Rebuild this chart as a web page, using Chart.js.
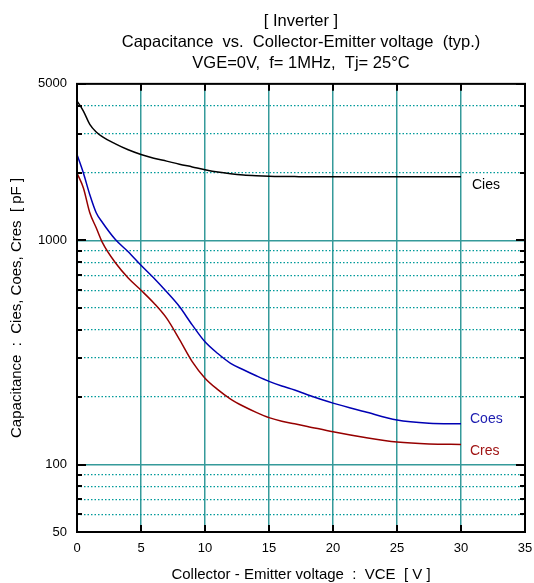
<!DOCTYPE html>
<html>
<head>
<meta charset="utf-8">
<script src="https://cdn.jsdelivr.net/npm/chart.js@4.4.0/dist/chart.umd.min.js"></script>
<style>
  html, body { margin: 0; padding: 0; background: #fff; }
  #wrap { width: 534px; height: 583px; position: relative; }
</style>
</head>
<body>
<div id="wrap"><canvas id="capChart"></canvas></div>
<script>
const titleLines = [
  "[ Inverter ]",
  "Capacitance  vs.  Collector-Emitter voltage  (typ.)",
  "VGE=0V,  f= 1MHz,  Tj= 25°C",
];
const xTitle = "Collector - Emitter voltage  :  VCE  [ V ]";
const yTitle = "Capacitance  :  Cies, Coes, Cres  [ pF ]";

// VCE [V]
const vce = [0, 0.5, 1, 1.5, 2, 3, 4, 5, 6, 7, 8, 9, 10, 11, 12, 13, 14, 15, 16, 17, 18, 20, 22.5, 25, 27.5, 30];
// capacitance [pF]
const cies = [4200, 3780, 3300, 3050, 2900, 2700, 2540, 2420, 2330, 2260, 2190, 2130, 2070, 2020, 1985, 1960, 1945, 1935, 1930, 1928, 1926, 1925, 1925, 1925, 1925, 1925];
const coes = [2420, 2000, 1600, 1330, 1200, 1010, 890, 775, 680, 590, 507, 420, 353, 313, 283, 265, 249, 235, 224, 215, 205, 188, 172, 158, 153, 152];
const cres = [2000, 1715, 1330, 1140, 975, 795, 680, 600, 526, 450, 362, 288, 243, 216, 196, 182, 171, 162, 156, 152, 148, 140, 132, 126, 123.5, 123];

const seriesNames = ["Cies", "Coes", "Cres"];
const xTicks = [0, 5, 10, 15, 20, 25, 30, 35];
const yTicks = [50, 60, 70, 80, 90, 100, 200, 300, 400, 500, 600, 700, 800, 900, 1000, 2000, 3000, 4000, 5000];
const yLabels = [50, 100, 1000, 5000];
const yMajorGrid = [100, 1000];

const gridTeal = "#359a9a";
const dotTeal = "#009a9a";
const lineColors = ["#000000", "#0000b4", "#960000"];
const labelColors = ["#000000", "#1c1cb0", "#a01414"];

Chart.defaults.font.family = "'Liberation Sans', Arial, sans-serif";
Chart.defaults.color = "#000";

const toPoints = (vals) => vce.map((v, i) => ({ x: v, y: vals[i] }));

// box, inward tick marks and curve names
const framePlugin = {
  id: "frame",
  afterDatasetsDraw(chart) {
    const { ctx, chartArea: a, scales } = chart;
    const x = scales.x;
    const y = scales.y;
    ctx.save();
    ctx.strokeStyle = "#000";
    ctx.lineWidth = 2;
    ctx.strokeRect(a.left, a.top, a.right - a.left, a.bottom - a.top);
    ctx.beginPath();
    yTicks.forEach((v) => {
      const py = Math.round(y.getPixelForValue(v));
      const len = yLabels.includes(v) ? 9 : 5;
      ctx.moveTo(a.left, py);
      ctx.lineTo(a.left + len, py);
      ctx.moveTo(a.right, py);
      ctx.lineTo(a.right - len, py);
    });
    xTicks.forEach((v) => {
      const px = Math.round(x.getPixelForValue(v));
      ctx.moveTo(px, a.top);
      ctx.lineTo(px, a.top + 7);
      ctx.moveTo(px, a.bottom);
      ctx.lineTo(px, a.bottom - 7);
    });
    ctx.stroke();

    const offsets = [[11, 8], [9, -5], [9, 7]];
    ctx.font = "14px 'Liberation Sans', Arial, sans-serif";
    ctx.textBaseline = "middle";
    ctx.textAlign = "left";
    chart.data.datasets.forEach((ds, i) => {
      const last = ds.data[ds.data.length - 1];
      ctx.fillStyle = labelColors[i];
      ctx.fillText(
        seriesNames[i],
        x.getPixelForValue(last.x) + offsets[i][0],
        y.getPixelForValue(last.y) + offsets[i][1]
      );
    });
    ctx.restore();
  },
};

new Chart(document.getElementById("capChart"), {
  type: "line",
  data: {
    datasets: [cies, coes, cres].map((vals, i) => ({
      label: seriesNames[i],
      data: toPoints(vals),
      borderColor: lineColors[i],
      borderWidth: 1.5,
      pointRadius: 0,
      fill: false,
      cubicInterpolationMode: "monotone",
      yAxisID: "y",
    })),
  },
  options: {
    responsive: true,
    maintainAspectRatio: false,
    animation: false,
    layout: { padding: { left: 0, right: 9, top: 0, bottom: 0 } },
    plugins: {
      legend: { display: false },
      tooltip: { enabled: false },
      title: {
        display: true,
        text: titleLines,
        fullSize: false,
        color: "#000",
        font: { size: 16.5, weight: "normal", lineHeight: 1.27 },
        padding: { top: 11, bottom: 10 },
      },
    },
    scales: {
      x: {
        type: "linear",
        min: 0,
        max: 35,
        afterBuildTicks: (s) => {
          s.ticks = xTicks.map((v) => ({ value: v }));
        },
        grid: {
          color: (c) => (c.tick && c.tick.value > 0 && c.tick.value < 35 ? gridTeal : "transparent"),
          lineWidth: 1.5,
          drawTicks: false,
        },
        border: { display: false },
        ticks: { font: { size: 13 }, padding: 9, maxRotation: 0 },
        title: { display: true, text: xTitle, font: { size: 15, lineHeight: 1.05 }, padding: { top: 6, bottom: 0 } },
        afterFit: (s) => {
          s.height = 51;
          s.paddingLeft = 0;
          s.paddingRight = 0;
        },
      },
      y: {
        type: "logarithmic",
        min: 50,
        max: 5000,
        afterBuildTicks: (s) => {
          s.ticks = yTicks.map((v) => ({ value: v }));
        },
        grid: {
          color: (c) => (c.tick && yMajorGrid.includes(c.tick.value) ? gridTeal : "transparent"),
          lineWidth: 1.5,
          drawTicks: false,
        },
        border: { display: false },
        ticks: {
          autoSkip: false,
          font: { size: 13 },
          padding: 10,
          callback: (v) => (yLabels.includes(v) ? String(v) : ""),
        },
        title: { display: true, text: yTitle, font: { size: 15 }, padding: { top: 8, bottom: 4 } },
        afterFit: (s) => {
          s.width = 77;
          s.paddingTop = 0;
          s.paddingBottom = 0;
        },
      },
      yMinor: {
        type: "logarithmic",
        position: "left",
        min: 50,
        max: 5000,
        afterBuildTicks: (s) => {
          s.ticks = yTicks.map((v) => ({ value: v }));
        },
        grid: {
          color: (c) =>
            c.tick && !yLabels.includes(c.tick.value) ? dotTeal : "transparent",
          lineWidth: 1.2,
          drawTicks: false,
        },
        border: { display: false, dash: [1.5, 2] },
        ticks: { display: false },
        afterFit: (s) => {
          s.width = 0;
        },
      },
    },
  },
  plugins: [framePlugin],
});
</script>
</body>
</html>
